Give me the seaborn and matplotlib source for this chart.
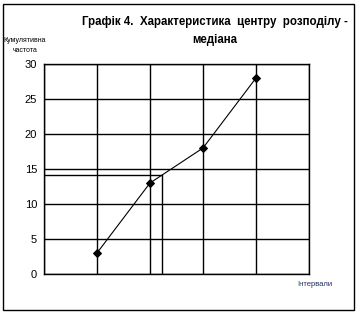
import matplotlib
matplotlib.use("Agg")
import matplotlib.pyplot as plt
import seaborn as sns
import pandas as pd
from matplotlib.patches import Rectangle

intervals = [1, 2, 3, 4]
cum_freq = [3, 13, 18, 28]
median_level = 14.1
yticks = [0, 5, 10, 15, 20, 25, 30]

sns.set_style("white")
plt.rcParams['font.family'] = ['Liberation Sans', 'DejaVu Sans']
plt.rcParams['text.color'] = 'black'
plt.rcParams['ytick.color'] = 'black'
plt.rcParams['xtick.color'] = 'black'

fig = plt.figure(figsize=(3.6, 3.14), dpi=100)
ax = fig.add_axes([44/360, 40/314, 265/360, 210/314])

df = pd.DataFrame({"x": intervals, "y": cum_freq})
sns.lineplot(data=df, x="x", y="y", ax=ax, color="black", linewidth=0.8,
             marker="D", markersize=4.5, markeredgecolor="black")

# median construction: intersection of median level with the polygon
x_med = 2 + (median_level - cum_freq[1]) / (cum_freq[2] - cum_freq[1])
ax.plot([0, x_med], [median_level, median_level], color="black", lw=1, zorder=1)
ax.plot([x_med, x_med], [0, median_level], color="black", lw=1, zorder=1)

ax.set_xlim(0, 5)
ax.set_ylim(0, 30)
ax.set_xticks([0, 1, 2, 3, 4, 5])
ax.set_xticklabels([])
ax.set_yticks(yticks)
ax.set_yticklabels([str(v) for v in yticks], fontsize=8, color="black")
ax.tick_params(axis='x', length=0)
ax.tick_params(axis='y', length=3, width=1, color='black', pad=2)
ax.grid(True, color="black", linewidth=1)
ax.set_axisbelow(True)
for s in ax.spines.values():
    s.set_color("black")
    s.set_linewidth(1)
ax.set_xlabel("")
ax.set_ylabel("")

fig.text(215/360, 1 - 22/314, "Графік 4.  Характеристика  центру  розподілу -",
         ha="center", va="center", fontsize=8.3, fontweight="bold", color="black")
fig.text(215/360, 1 - 40/314, "медіана", ha="center", va="center",
         fontsize=8.3, fontweight="bold", color="black")
fig.text(25/360, 1 - 40/314, "Кумулятивна", ha="center", va="center", fontsize=5, color="black")
fig.text(25/360, 1 - 50/314, "частота", ha="center", va="center", fontsize=5, color="black")
fig.text(315/360, 1 - 285/314, "Інтервали", ha="center", va="center",
         fontsize=5.5, color="#1f3060")

fig.patches.append(Rectangle((3/360, 4/314), 351/360, 306/314, transform=fig.transFigure,
                             fill=False, edgecolor="black", linewidth=1))

fig.savefig("out.png", dpi=100)
